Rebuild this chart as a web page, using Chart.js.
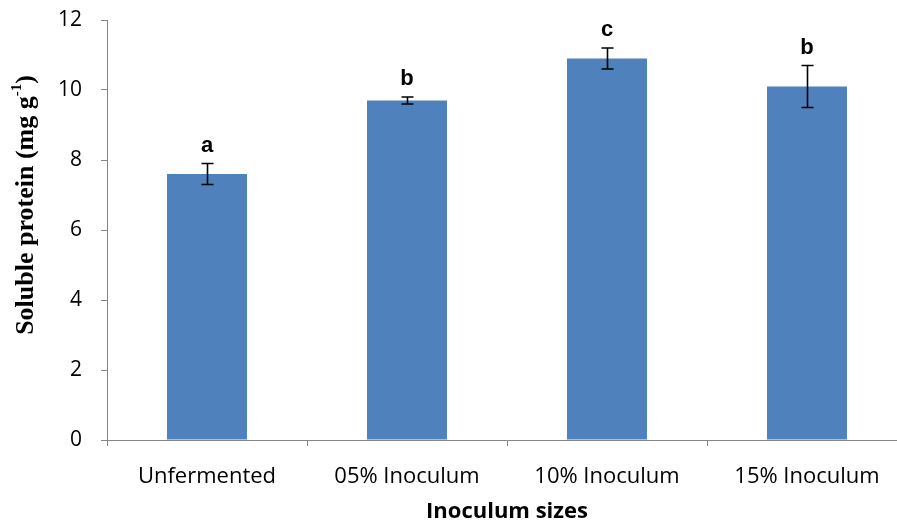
<!DOCTYPE html>
<html>
<head>
<meta charset="utf-8">
<script src="https://cdn.jsdelivr.net/npm/chart.js@4/dist/chart.umd.min.js"></script>
<style>
  html, body { margin: 0; padding: 0; background: #fff; overflow: hidden; }
  #wrap { width: 907px; height: 525px; }
</style>
</head>
<body>
<div id="wrap"><canvas id="c" width="907" height="525"></canvas></div>
<script>
// Soluble protein by inoculum size
const categories = ['Unfermented', '05% Inoculum', '10% Inoculum', '15% Inoculum'];
const proteinMeans = [7.6, 9.7, 10.9, 10.1];
const proteinErrors = [0.3, 0.1, 0.3, 0.6];
const groupLetters = ['a', 'b', 'c', 'b'];
const yTicks = [0, 2, 4, 6, 8, 10, 12];

const axisGrey = '#868686';
const tickFont = "'Open Sans', 'Liberation Sans', sans-serif";

// Error bars with caps plus significance letters above each bar
const errorBarPlugin = {
  id: 'errorBars',
  afterDatasetsDraw(chart) {
    const ctx = chart.ctx;
    const meta = chart.getDatasetMeta(0);
    const y = chart.scales.y;
    ctx.save();
    meta.data.forEach((bar, i) => {
      const top = y.getPixelForValue(proteinMeans[i] + proteinErrors[i]);
      const bot = y.getPixelForValue(proteinMeans[i] - proteinErrors[i]);
      const x = Math.round(bar.x) + 0.5;
      ctx.strokeStyle = '#000';
      ctx.lineWidth = 1.6;
      ctx.beginPath();
      ctx.moveTo(x, top); ctx.lineTo(x, bot);
      ctx.moveTo(x - 6, top); ctx.lineTo(x + 6, top);
      ctx.moveTo(x - 6, bot); ctx.lineTo(x + 6, bot);
      ctx.stroke();
      ctx.fillStyle = '#000';
      ctx.font = "bold 22px 'Liberation Sans', Arial, sans-serif";
      ctx.textAlign = 'center';
      ctx.textBaseline = 'middle';
      ctx.fillText(groupLetters[i], bar.x, top - 18);
    });
    ctx.restore();
  }
};

// Rotated y-axis title with a superscript exponent
const yTitlePlugin = {
  id: 'yTitle',
  afterDraw(chart) {
    const ctx = chart.ctx;
    const main = 'Soluble protein (mg g';
    const sup = '-1';
    const close = ')';
    const fMain = "bold 26px 'Liberation Serif', 'Times New Roman', serif";
    const fSup = "bold 15px 'Liberation Serif', 'Times New Roman', serif";
    ctx.save();
    ctx.font = fMain;
    const wMain = ctx.measureText(main).width;
    const wClose = ctx.measureText(close).width;
    ctx.font = fSup;
    const wSup = ctx.measureText(sup).width;
    const total = wMain + wSup + wClose;
    ctx.translate(26, 205);
    ctx.rotate(-Math.PI / 2);
    ctx.fillStyle = '#000';
    ctx.textBaseline = 'middle';
    ctx.textAlign = 'left';
    let x = -total / 2;
    ctx.font = fMain;
    ctx.fillText(main, x, 0);
    x += wMain;
    ctx.font = fSup;
    ctx.fillText(sup, x, -9);
    x += wSup;
    ctx.font = fMain;
    ctx.fillText(close, x, 0);
    ctx.restore();
  }
};

new Chart(document.getElementById('c'), {
  type: 'bar',
  data: {
    labels: categories,
    datasets: [{
      data: proteinMeans,
      backgroundColor: '#4F81BD',
      borderWidth: 0,
      barPercentage: 0.4,
      categoryPercentage: 1.0
    }]
  },
  options: {
    responsive: false,
    animation: false,
    layout: { padding: { top: 20, left: 0, right: 0, bottom: 0 } },
    plugins: {
      legend: { display: false },
      tooltip: { enabled: false }
    },
    scales: {
      x: {
        grid: {
          display: true,
          drawOnChartArea: false,
          drawTicks: true,
          tickLength: 6,
          offset: true,
          color: axisGrey
        },
        border: { color: axisGrey, width: 1 },
        ticks: {
          color: '#000',
          font: { family: tickFont, size: 22 },
          padding: 18,
          maxRotation: 0
        },
        title: {
          display: true,
          text: 'Inoculum sizes',
          color: '#000',
          font: { family: tickFont, size: 22, weight: 'bold' },
          padding: { top: 6, bottom: 0 }
        },
        afterFit(scale) {
          scale.height = 85;
          scale.paddingLeft = 0;
          scale.paddingRight = 0;
        }
      },
      y: {
        min: 0,
        max: 12,
        afterBuildTicks(scale) { scale.ticks = yTicks.map(v => ({ value: v })); },
        grid: {
          display: true,
          drawOnChartArea: false,
          drawTicks: true,
          tickLength: 6,
          color: axisGrey
        },
        border: { color: axisGrey, width: 1 },
        ticks: {
          color: '#000',
          font: { family: tickFont, size: 21 },
          padding: 19
        },
        afterFit(scale) {
          scale.width = 107;
          scale.paddingTop = 0;
          scale.paddingBottom = 0;
        }
      }
    }
  },
  plugins: [errorBarPlugin, yTitlePlugin]
});
</script>
</body>
</html>
